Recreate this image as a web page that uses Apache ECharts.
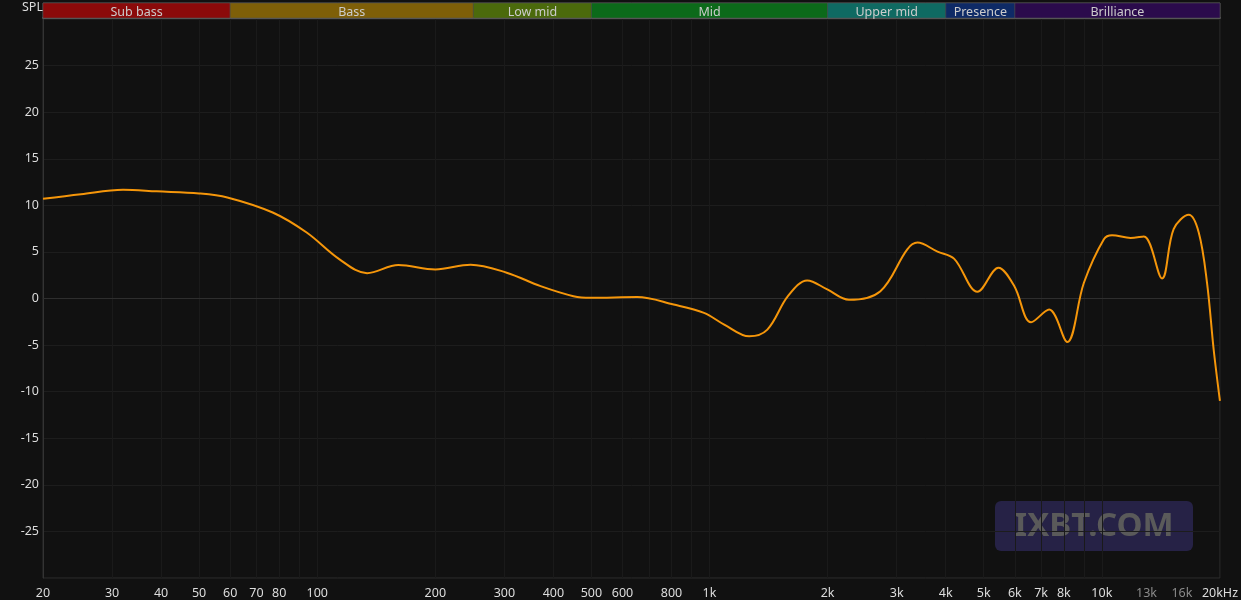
<!DOCTYPE html>
<html>
<head>
<meta charset="utf-8">
<script src="https://cdn.jsdelivr.net/npm/echarts@6/dist/echarts.min.js"></script>
<style>
html,body{margin:0;padding:0;background:#111111;}
#c{width:1241px;height:600px;}
</style>
</head>
<body>
<div id="c"></div>
<script>
// Frequency response data (Hz, dB SPL)
const freqs = [20, 25, 32, 39, 50, 59, 77, 94, 114, 134, 161, 200, 246, 304, 371, 450, 498, 654, 810, 968, 1090, 1262, 1404, 1584, 1774, 1996, 2266, 2726, 3192, 3387, 3812, 4200, 4820, 5450, 5980, 6600, 7340, 8160, 9000, 10120, 10620, 11840, 12800, 14240, 15240, 16660, 17660, 18540, 19280, 20000];
const spl = [10.7, 11.2, 11.67, 11.5, 11.28, 10.85, 9.23, 7.08, 4.2, 2.72, 3.59, 3.12, 3.63, 2.77, 1.33, 0.25, 0.07, 0.15, -0.65, -1.54, -2.8, -4.06, -3.34, 0.25, 1.94, 0.97, -0.14, 0.79, 5.28, 6.0, 5.03, 4.28, 0.72, 3.3, 1.33, -2.55, -1.19, -4.67, 1.69, 6.36, 6.79, 6.5, 6.65, 2.16, 7.44, 8.98, 7.08, 1.69, -5.5, -11];

// X tick labels
const tickValues = [20, 30, 40, 50, 60, 70, 80, 100, 200, 300, 400, 500, 600, 800, 1000, 2000, 3000, 4000, 5000, 6000, 7000, 8000, 10000, 13000, 16000, 20000];
const tickLabels = ['20', '30', '40', '50', '60', '70', '80', '100', '200', '300', '400', '500', '600', '800', '1k', '2k', '3k', '4k', '5k', '6k', '7k', '8k', '10k', '13k', '16k', '20kHz'];
const dimLabels = ['13k', '16k'];
// vertical grid lines
const gridValues = [20, 30, 40, 50, 60, 70, 80, 90, 100, 200, 300, 400, 500, 600, 700, 800, 900, 1000, 2000, 3000, 4000, 5000, 6000, 7000, 8000, 9000, 10000, 20000];

// Frequency bands
const bandNames = ['Sub bass', 'Bass', 'Low mid', 'Mid', 'Upper mid', 'Presence', 'Brilliance'];
const bandStarts = [20, 60, 250, 500, 2000, 4000, 6000];
const bandEnds = [60, 250, 500, 2000, 4000, 6000, 20000];
const bandColors = ['#8b0a0a', '#7e5f08', '#4b6a0c', '#0c6a1a', '#0f6a62', '#0e2a66', '#2b0b4c'];

const labelFor = v => {
  const i = tickValues.findIndex(t => Math.abs(t - v) / t < 1e-6);
  return i >= 0 ? tickLabels[i] : '';
};

const chart = echarts.init(document.getElementById('c'), null, {renderer: 'canvas'});
const FONT = '"Noto Sans", "Open Sans", sans-serif';

chart.setOption({
  backgroundColor: '#111111',
  animation: false,
  textStyle: {fontFamily: FONT},
  grid: [
    {left: 43, right: 21, top: 3, height: 15, show: true, borderColor: '#555', borderWidth: 1, backgroundColor: 'transparent'},
    {left: 43, right: 21, top: 19, bottom: 22, show: true, borderColor: '#2e2e2e', borderWidth: 1, backgroundColor: 'transparent'}
  ],
  xAxis: [
    {gridIndex: 0, type: 'log', logBase: 10, min: 20, max: 20000,
     axisLine: {show: true, lineStyle: {color: '#555', width: 2}}, axisTick: {show: false}, axisLabel: {show: false}, splitLine: {show: false}},
    {gridIndex: 1, type: 'log', logBase: 10, min: 20, max: 20000,
     axisLine: {show: true, lineStyle: {color: '#2e2e2e'}},
     axisTick: {show: false, customValues: gridValues},
     axisLabel: {
       show: true, customValues: tickValues, margin: 9,
       fontSize: 12.5, fontFamily: FONT,
       formatter: v => labelFor(v),
       color: v => dimLabels.indexOf(labelFor(v)) >= 0 ? '#8a8a8a' : '#dddddd'
     },
     splitLine: {show: true, lineStyle: {color: '#1a1a1a', width: 1}}}
  ],
  yAxis: [
    {gridIndex: 0, type: 'value', min: 0, max: 1, show: false},
    {gridIndex: 1, type: 'value', min: -30, max: 30, interval: 5,
     axisLine: {show: true, lineStyle: {color: '#333'}},
     axisTick: {show: false},
     axisLabel: {fontSize: 12.5, fontFamily: FONT, color: '#dddddd', margin: 4, padding: [3, 0, 0, 0],
       formatter: v => (v === 30 || v === -30) ? '' : String(v)},
     splitLine: {show: true, lineStyle: {color: '#1d1d1d', width: 1}}}
  ],
  graphic: [
    {type: 'text', left: 22, top: 1, style: {text: 'SPL', fill: '#dddddd', font: '12.5px ' + FONT}},
    {type: 'group', left: 995, top: 501, children: [
      {type: 'rect', shape: {x: 0, y: 0, width: 198, height: 50, r: 6}, style: {fill: '#262246'}},
      {type: 'text', x: 99, y: 26, style: {text: 'IXBT.COM', fill: '#5a5a5a', font: 'bold 33px ' + FONT, textAlign: 'center', textVerticalAlign: 'middle'}}
    ]}
  ],
  series: [
    {
      type: 'line', xAxisIndex: 0, yAxisIndex: 0, data: [], silent: true,
      markArea: {
        silent: true,
        label: {show: true, position: 'inside', color: '#cccccc', fontSize: 12.5, fontFamily: FONT, offset: [0, 2]},
        data: bandNames.map((n, i) => [
          {name: n, xAxis: bandStarts[i], itemStyle: {color: bandColors[i], borderColor: '#555', borderWidth: 0.5}},
          {xAxis: bandEnds[i]}
        ])
      }
    },
    {
      type: 'line', xAxisIndex: 1, yAxisIndex: 1,
      data: freqs.map((f, i) => [f, spl[i]]),
      smooth: 0.35, showSymbol: false, symbol: 'none',
      lineStyle: {color: '#f5960a', width: 2},
      itemStyle: {color: '#f5960a'}
    }
  ]
});
</script>
</body>
</html>
